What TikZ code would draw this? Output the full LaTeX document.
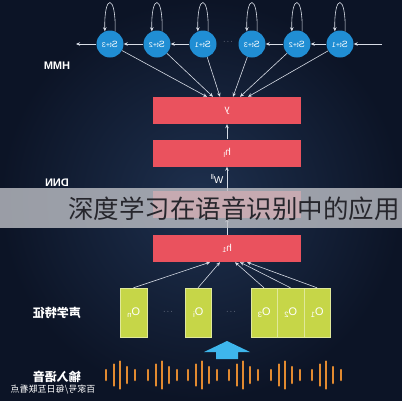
\documentclass[tikz,border=0pt]{standalone}
\usepackage{fontspec}
\setmainfont{Liberation Sans}
\newfontfamily\cjk{Noto Sans CJK SC}
\usetikzlibrary{calc,arrows.meta}

\definecolor{navy}{RGB}{20,32,56}
\definecolor{hmmblue}{RGB}{32,142,212}
\definecolor{dnnred}{RGB}{234,82,94}
\definecolor{featgreen}{RGB}{198,214,72}
\definecolor{waveorange}{RGB}{226,138,48}
\definecolor{upblue}{RGB}{62,182,236}
\definecolor{linkgray}{RGB}{215,220,230}

\tikzset{
  state/.style={circle,fill=hmmblue,minimum size=27pt,inner sep=0pt,text=white,font=\fontsize{9}{10}\selectfont},
  layer/.style={fill=dnnred,minimum width=148pt,minimum height=27pt,inner sep=0pt,text=white,font=\fontsize{10}{12}\selectfont},
  feat/.style={fill=featgreen,draw=featgreen!55!white,minimum width=26.5pt,minimum height=49pt,inner sep=0pt,text=white,font=\fontsize{11}{12}\selectfont},
  link/.style={draw=linkgray,line width=0.6pt,-{Stealth[length=4pt,width=3.5pt]}},
  sidelabel/.style={text=white,font=\bfseries},
  wave/.style={draw=waveorange,line width=2.5pt,line cap=round},
}
\newcommand{\mir}[1]{\reflectbox{#1}}

\begin{document}
\begin{tikzpicture}[x=1pt,y=-1pt]
	\shade[inner color={rgb,255:red,30;green,48;blue,78},outer color={rgb,255:red,12;green,20;blue,38}] (0,0) rectangle (402,400);
	\useasboundingbox (0,0) rectangle (402,400);
	% HMM
	\foreach \x/\k/\nm in {110/3/a3,157/2/a2,203/1/a1,252/3/b3,297/2/b2,340/1/b1}{
		\node[state] (\nm) at (\x,44) {\mir{S{\fontsize{7}{8}\selectfont t+\k}}};
		\draw[link] (\nm.68) .. controls +(1,-38) and +(-1,-38) .. (\nm.112);
	}
	\coordinate (chainin) at (382,44);
	\coordinate (chainout) at (76,44);
	\draw[link] (chainin) -- (b1);
	\draw[link] (b1) -- (b2);
	\draw[link] (b2) -- (b3);
	\draw[link] (a1) -- (a2);
	\draw[link] (a2) -- (a3);
	\draw[link] (a3) -- (chainout);
	\node[text=linkgray,font=\scriptsize] (sdots) at (228,42) {$\cdots$};
	\node[sidelabel,font=\bfseries\fontsize{11}{13}\selectfont] (hmmlab) at (57,66) {\mir{HMM}};
	% DNN
	\node[layer] (ylay) at (227,110.5) {\mir{y}};
	\node[layer] (hl) at (227,153) {\mir{h\textsubscript{l}}};
	\node[layer] (hm) at (227,204.5) {};
	\node[layer] (h1) at (227,248.5) {\mir{h\textsubscript{1}}};
	\foreach \nm/\dx in {a3/-20,a2/-14,a1/-7,b3/6,b2/13,b1/21}
		\draw[link] (\nm) -- ($(ylay.north)+(\dx,0)$);
	\draw[link] (hl) -- (ylay);
	\draw[link] (hm) -- node[left,text=white,font=\fontsize{10}{12}\selectfont] (wlab) {\mir{W\textsuperscript{ll}}} (hl);
	\draw[link] (h1) -- (hm);
	\node[sidelabel,font=\bfseries\fontsize{11}{13}\selectfont] (dnnlab) at (57,183) {\mir{DNN}};
	\fill[fill={rgb,255:red,190;green,192;blue,198},opacity=0.8] (0,188) rectangle (402,228);
	\node[anchor=west,inner sep=0pt,text={rgb,255:red,38;green,38;blue,44},font=\cjk\fontsize{25.5}{28}\selectfont] (title) at (68,209) {深度学习在语音识别中的应用};
	% features
	\node[feat] (on) at (133.5,312.5) {\mir{O\textsubscript{n}}};
	\node[feat] (oi) at (198,312.5) {\mir{O\textsubscript{i}}};
	\node[feat] (o3) at (264,312.5) {\mir{O\textsubscript{3}}};
	\node[feat] (o2) at (290.5,312.5) {\mir{O\textsubscript{2}}};
	\node[feat] (o1) at (317,312.5) {\mir{O\textsubscript{1}}};
	\node[text=linkgray,font=\scriptsize] (fdots1) at (168,312) {$\cdots$};
	\node[text=linkgray,font=\scriptsize] (fdots2) at (231,312) {$\cdots$};
	\foreach \nm/\dx in {on/-17,oi/-7,o3/8,o2/13,o1/20}
		\draw[link] (\nm.north) -- ($(h1.south)+(\dx,0)$);
	\node[sidelabel,font=\cjk\bfseries\fontsize{12}{14}\selectfont] (featlab) at (57,313) {\mir{声学特征}};
	% input
	\fill[upblue] (216,359) -- (216,352) -- (204,352) -- (227,341) -- (250,352) -- (238,352) -- (238,359) -- cycle;
	\foreach \gx in {106,148,188,229,271,312}
		\foreach \dx/\h in {0/10,8/21,14/27,21/16,29/10}
			\draw[wave] (\gx+\dx,{375-\h/2}) -- ++(0,\h);
	\node[sidelabel,font=\cjk\bfseries\fontsize{12}{14}\selectfont] (speechlab) at (57,377) {\mir{输入语音}};
	\node[text=white,font=\cjk\fontsize{9}{10}\selectfont] (marklab) at (53,389) {\mir{百家号/每日互联看点}};
\end{tikzpicture}
\end{document}
